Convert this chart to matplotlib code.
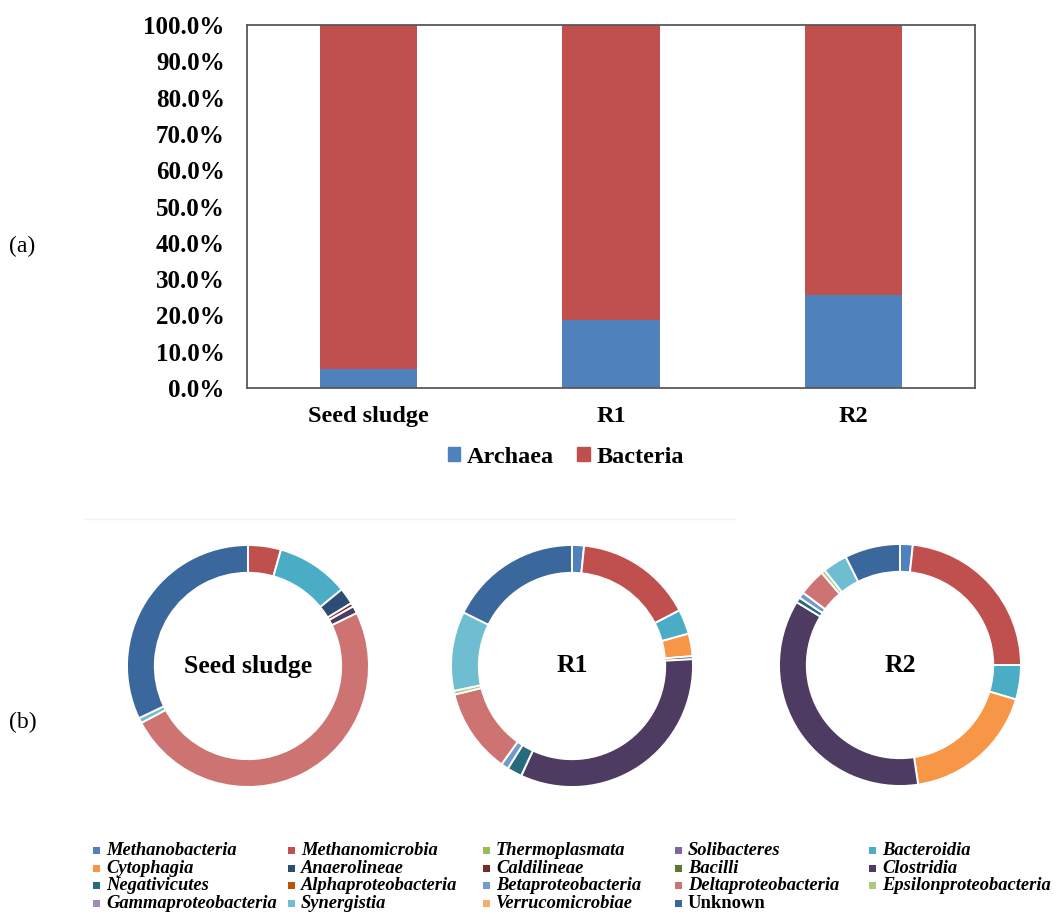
import matplotlib
matplotlib.use("Agg")
import matplotlib.pyplot as plt
from matplotlib.patches import Patch, Rectangle
from matplotlib.lines import Line2D
from matplotlib.ticker import PercentFormatter

# ---------------- data ----------------
samples = ["Seed sludge", "R1", "R2"]
archaea = [5.2, 18.8, 25.5]
bacteria = [94.8, 81.2, 74.5]

classes = [
    "Methanobacteria", "Methanomicrobia", "Thermoplasmata", "Solibacteres", "Bacteroidia",
    "Cytophagia", "Anaerolineae", "Caldilineae", "Bacilli", "Clostridia",
    "Negativicutes", "Alphaproteobacteria", "Betaproteobacteria", "Deltaproteobacteria",
    "Epsilonproteobacteria", "Gammaproteobacteria", "Synergistia", "Verrucomicrobiae", "Unknown",
]
class_colors = [
    "#4F81BD", "#C0504D", "#9BBB59", "#8064A2", "#4BACC6",
    "#F79646", "#2C4D75", "#772C2A", "#5F7530", "#4D3B62",
    "#276A7C", "#B65708", "#729ACA", "#CD7371",
    "#AFC97A", "#A18CB9", "#6FBDD1", "#F9AB6B", "#3A679C",
]
# relative abundance (%) per class, same order as `classes`
seed_sludge = [0, 4.4, 0, 0, 9.7, 0, 2.2, 0.5, 0, 1.0, 0, 0, 0, 49.4, 0, 0, 0.7, 0, 32.1]
r1 = [1.6, 15.8, 0, 0, 3.3, 3.0, 0.4, 0, 0, 32.8, 2.0, 0, 1.0, 11.3, 0.5, 0, 10.6, 0, 17.7]
r2 = [1.7, 23.3, 0, 0, 4.6, 18.0, 0, 0, 0, 36.1, 0.7, 0, 0.8, 3.6, 0.5, 0, 3.3, 0, 7.4]
donut_data = [seed_sludge, r1, r2]

SERIF = "Liberation Serif"
W, H = 1056, 913

fig = plt.figure(figsize=(W / 100, H / 100), dpi=100)
fig.patch.set_facecolor("white")


def fx(px):
    return px / W


def fy(py):
    return 1 - py / H


# ---------------- (a) stacked bars ----------------
ax = fig.add_axes([fx(247), fy(388), fx(975) - fx(247), fy(25) - fy(388)])
x = range(len(samples))
ax.bar(x, archaea, width=0.4, color="#4F81BD", label="Archaea", zorder=2)
ax.bar(x, bacteria, width=0.4, bottom=archaea, color="#C0504D", label="Bacteria", zorder=2)
ax.set_xlim(-0.5, 2.5)
ax.set_ylim(0, 100)
ax.set_yticks(range(0, 101, 10))
ax.yaxis.set_major_formatter(PercentFormatter(decimals=1))
ax.set_xticks(list(x))
ax.set_xticklabels(samples)
ax.tick_params(axis="y", length=0, labelsize=18, pad=16)
ax.tick_params(axis="x", length=0, labelsize=17.5, pad=13)
for lab in ax.get_xticklabels() + ax.get_yticklabels():
    lab.set_fontfamily(SERIF)
    lab.set_fontweight("bold")
for sp in ax.spines.values():
    sp.set_color("#595959")
    sp.set_linewidth(1.3)

fig.legend(
    handles=[Patch(color="#4F81BD", label="Archaea"), Patch(color="#C0504D", label="Bacteria")],
    loc="center", bbox_to_anchor=(fx(566), fy(457)), ncol=2, frameon=False,
    handlelength=0.5, handleheight=0.5, handletextpad=0.3, columnspacing=0.95,
    prop={"family": SERIF, "weight": "bold", "size": 17.5},
)

fig.text(fx(9), fy(246), "(a)", fontsize=17, fontfamily=SERIF, va="center", ha="left")
fig.text(fx(9), fy(722), "(b)", fontsize=17, fontfamily=SERIF, va="center", ha="left")

# faint frame edge of the lower panel
fig.add_artist(Line2D([fx(84), fx(735)], [fy(519), fy(519)], color="#f2f2f2", lw=1.0))

# ---------------- (b) donuts ----------------
centers = [(248, 666), (572, 666), (900, 665)]
R = 121
for (cx, cy), vals, name in zip(centers, donut_data, samples):
    pax = fig.add_axes([fx(cx - R), fy(cy + R), fx(2 * R), (2 * R) / H])
    keep = [(v, c) for v, c in zip(vals, class_colors) if v > 0]
    pax.pie(
        [v for v, _ in keep], colors=[c for _, c in keep],
        startangle=90, counterclock=False, radius=1.0,
        wedgeprops=dict(width=0.23, edgecolor="white", linewidth=1.4),
    )
    pax.set_xlim(-1, 1)
    pax.set_ylim(-1, 1)
    pax.set_aspect("equal")
    pax.axis("off")
    pax.text(0, 0, name, ha="center", va="center", fontsize=18.5,
             fontfamily=SERIF, fontweight="bold")

# ---------------- (b) class legend ----------------
col_x = [96, 291, 486, 678, 872]
row_y = [850, 868, 885, 903]
sq = 7
for i, (name, color) in enumerate(zip(classes, class_colors)):
    r, c = divmod(i, 5)
    mx, my = col_x[c], row_y[r]
    fig.add_artist(Rectangle((fx(mx - sq / 2), fy(my + sq / 2)), sq / W, sq / H,
                             facecolor=color, edgecolor="none", transform=fig.transFigure))
    style = "normal" if name == "Unknown" else "italic"
    fig.text(fx(mx + 10), fy(my), name, fontsize=13.3, fontfamily=SERIF,
             fontweight="bold", fontstyle=style, va="center", ha="left")

fig.savefig("out.png", dpi=100, facecolor="white")
